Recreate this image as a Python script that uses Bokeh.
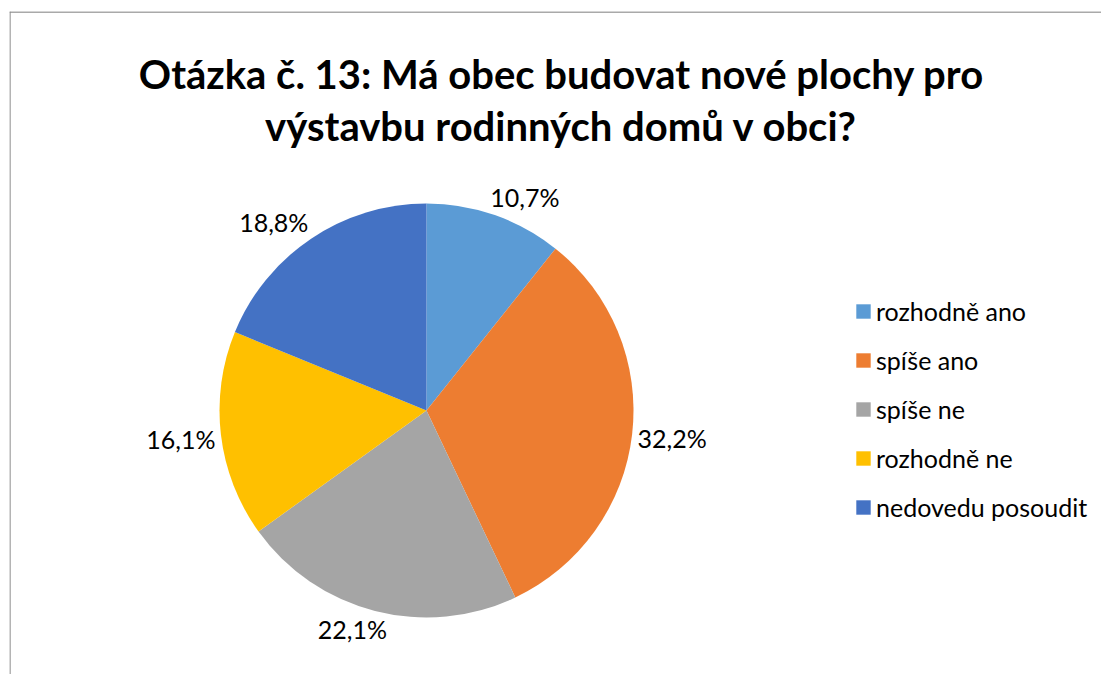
import math
from bokeh.plotting import figure
from bokeh.models import Range1d, Legend, LegendItem, ColumnDataSource, Span
from bokeh.core.properties import value
from bokeh.embed import file_html
from bokeh.resources import INLINE

# ---- data ----
title_lines = ["Otázka č. 13: Má obec budovat nové plochy pro",
               "výstavbu rodinných domů v obci?"]
categories = ["rozhodně ano", "spíše ano", "spíše ne", "rozhodně ne", "nedovedu posoudit"]
shares = [10.7, 32.2, 22.1, 16.1, 18.8]
share_labels = ["10,7%", "32,2%", "22,1%", "16,1%", "18,8%"]
colors = ["#5B9BD5", "#ED7D31", "#A5A5A5", "#FFC000", "#4472C4"]

# ---- layout (pixels) ----
FRAME_W, FRAME_H = 1092, 663
LEFT, TOP = 9, 11
CX, CY, R = 417, 264, 207
FONT = "Lato"

total = sum(shares)
starts, ends, mids = [], [], []
acc = 0.0
for v in shares:
    a0 = math.pi / 2 - 2 * math.pi * acc / total
    acc += v
    a1 = math.pi / 2 - 2 * math.pi * acc / total
    starts.append(a0)
    ends.append(a1)
    mids.append((a0 + a1) / 2)

# label positions: text box set just outside the rim at the slice's mid angle
HW, HH, GAP, K = 34, 12, 6, 2.5
lx, ly = [], []
for m in mids:
    ux, uy = math.cos(m), math.sin(m)
    sx = max(-1.0, min(1.0, K * ux))
    sy = max(-1.0, min(1.0, K * uy))
    lx.append(CX + (R + GAP) * ux + HW * sx)
    ly.append(CY + (R + GAP) * uy + HH * sy)

src = ColumnDataSource(dict(cat=categories, start=starts, end=ends, color=colors,
                            lab=share_labels, lx=lx, ly=ly))

p = figure(width=FRAME_W + LEFT, height=FRAME_H + TOP, output_backend="svg", toolbar_location=None,
           x_range=Range1d(0, FRAME_W), y_range=Range1d(0, FRAME_H),
           x_axis_location=None, y_axis_location=None,
           min_border_left=LEFT, min_border_top=TOP, min_border_right=0, min_border_bottom=0)
p.grid.visible = False
p.outline_line_color = None
p.background_fill_color = "white"
p.border_fill_color = "white"

# chart-area border (only left and top edges fall inside the window)
p.add_layout(Span(location=0.5, dimension="height", line_color="#8C8C8C", line_width=1.3))
p.add_layout(Span(location=FRAME_H - 0.5, dimension="width", line_color="#8C8C8C", line_width=1.3))

wr = p.wedge(x=CX, y=CY, radius=R, start_angle="start", end_angle="end", direction="clock",
             fill_color="color", line_color=None, source=src)

p.text(x="lx", y="ly", text="lab", source=src, text_align="center", text_baseline="middle",
       text_font=value(FONT), text_font_size="25px", text_color="#000000")

# title
tsrc = ColumnDataSource(dict(x=[552, 552], y=[601, 549], t=title_lines))
p.text(x="x", y="y", text="t", source=tsrc, text_align="center", text_baseline="alphabetic",
       text_font=value(FONT), text_font_size="40px", text_font_style="bold", text_color="#000000")

items = [LegendItem(label=c, renderers=[wr], index=i) for i, c in enumerate(categories)]
legend = Legend(items=items, location=(845, 152), orientation="vertical",
                glyph_width=18, glyph_height=18, label_height=18, label_standoff=4,
                spacing=19, padding=0, margin=0,
                label_text_font=FONT, label_text_font_size="25px", label_text_color="#000000",
                border_line_color=None, background_fill_alpha=0)
p.add_layout(legend, "center")

open("out.html", "w").write(file_html(p, INLINE))
